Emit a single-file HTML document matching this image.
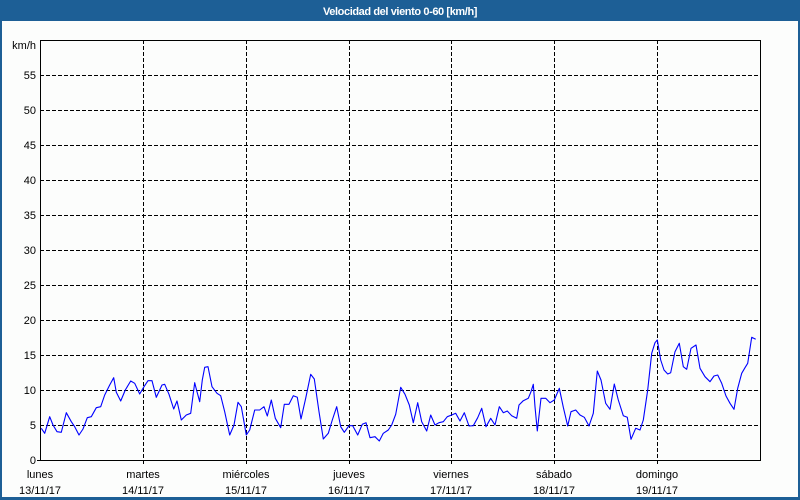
<!DOCTYPE html>
<html><head><meta charset="utf-8">
<style>
html,body{margin:0;padding:0;background:#fcfdfc;}
body{width:800px;height:500px;overflow:hidden;position:relative;}
svg{position:absolute;left:0;top:0;}
text{font-family:"Liberation Sans",Arial,sans-serif;font-size:11px;fill:#000;}
</style></head><body>
<svg width="800" height="500" viewBox="0 0 800 500" xmlns="http://www.w3.org/2000/svg">
<rect x="0" y="0" width="800" height="500" fill="#fcfdfc"/>
<!-- frame border -->
<rect x="0" y="0" width="2" height="500" fill="#1d5f96"/>
<rect x="798" y="0" width="2" height="500" fill="#1d5f96"/>
<rect x="0" y="497" width="800" height="3" fill="#1d5f96"/>
<rect x="0" y="0" width="800" height="21" fill="#1d5f96"/>
<text x="400" y="15" text-anchor="middle" style="font-weight:bold;fill:#fff;letter-spacing:-0.4px">Velocidad del viento 0-60 [km/h]</text>

<g shape-rendering="crispEdges" stroke="#000" stroke-width="1" stroke-dasharray="4,2" fill="none">
<line x1="40" y1="75.5" x2="760" y2="75.5"/>
<line x1="40" y1="110.5" x2="760" y2="110.5"/>
<line x1="40" y1="145.5" x2="760" y2="145.5"/>
<line x1="40" y1="180.5" x2="760" y2="180.5"/>
<line x1="40" y1="215.5" x2="760" y2="215.5"/>
<line x1="40" y1="250.5" x2="760" y2="250.5"/>
<line x1="40" y1="285.5" x2="760" y2="285.5"/>
<line x1="40" y1="320.5" x2="760" y2="320.5"/>
<line x1="40" y1="355.5" x2="760" y2="355.5"/>
<line x1="40" y1="390.5" x2="760" y2="390.5"/>
<line x1="40" y1="425.5" x2="760" y2="425.5"/>
<line x1="143.5" y1="40" x2="143.5" y2="464"/>
<line x1="246.5" y1="40" x2="246.5" y2="464"/>
<line x1="349.5" y1="40" x2="349.5" y2="464"/>
<line x1="451.5" y1="40" x2="451.5" y2="464"/>
<line x1="554.5" y1="40" x2="554.5" y2="464"/>
<line x1="657.5" y1="40" x2="657.5" y2="464"/>
</g>
<rect x="40.5" y="40.5" width="720" height="420" fill="none" stroke="#000" stroke-width="1" shape-rendering="crispEdges"/>
<line x1="37" y1="460.5" x2="40" y2="460.5" stroke="#000" shape-rendering="crispEdges"/>

<polyline fill="none" stroke="#0000ff" stroke-width="1.1" stroke-linejoin="round" points="
41.3,428.3 44.7,433.3 49.7,416.7 53,425 57,431.7 61.3,432.3 66.3,412.7 71.3,421.7 74.7,426.7 79,435 83,429 87.3,417.7 91.3,416.7 96.3,407.7 100.7,406.7 104.7,395 109.7,385 113.7,377.7 116.3,392.3 120.7,401 125.3,390 130.7,381 134.7,383.3 139.7,394 144,386.7 148,380.7 152,380.7 156.3,397.3 162,385 164.7,384.3 169,394.3 173.7,409 177,401 181.3,420 186.3,415 190.7,413.3 194.7,382.7 197,391.7 199.7,401.7 202.3,380 204.7,367.3 208,366.7 212,386.7 217,393.3 220.7,395.7 224.7,411.7 229.7,435 234,425 238,402.3 241.3,406.7 246.3,435 249.7,430 254.7,410 259.7,410 264,406.7 267.3,416 271.3,400 275.3,418.3 280.7,427.7 284.3,404.3 289,404.3 293.3,395.7 297.3,397.3 301,419 305.7,398.3 310.7,374.3 314.3,379 319,411.7 323.3,439 328.3,433.3 332.3,420 336.7,406.7 340.7,426.7 344.3,432.3 349,425.7 352.7,425.7 357.7,435 362.3,424.3 366,422.7 370,437.7 375,436.7 379.3,441 383.3,433.3 388.3,430 391.7,425 395.7,414.3 400.7,387.3 405,394.3 409.3,405 413.3,422.7 417.7,402.7 421.7,421.7 426.7,431 430.7,415 435,425 439,422.7 443.3,421.7 447.3,416.7 451.7,415 455.7,413.3 460,421 464.3,412.7 469,426 473.3,425.7 477.7,417.7 481.7,408.3 486,426.7 490.7,418.3 495,425 499.3,406.7 503.3,412.7 507.3,411 511.7,415.7 516.7,418.3 519,405 523.3,400.7 528.3,398.3 531,391.7 533.3,384.3 535,406.7 537.3,431 541,398.3 545.7,398.3 550,402.7 554.3,400 559.3,388.3 563.3,407.3 567.7,426 571,411.7 575.7,410 580,415 584.3,417.3 589,426 593.3,413.3 597.3,371 601,380 605.7,403.3 610,409.3 614.3,384 618.3,400 623.3,415.7 627.3,417.3 631,439.3 635.7,428.3 640,430 643.3,420 647.7,390 651.7,353.3 655,342.7 657.3,340 660.7,360 664,370 667.7,374 670.7,372.7 675,351.7 679.3,343.3 683.3,366.7 686.7,369.3 691,348.3 696,345 700,368.3 705,376.7 710,381.7 714,376 717.7,375 721.7,383.3 726,396 730,403.3 734,409.3 737.7,388.3 741.7,373.3 745,367.7 747.7,363.3 751.7,337.3 755.7,339.3"/>

<g text-anchor="end">
<text x="36" y="49">km/h</text>
<text x="36" y="79">55</text>
<text x="36" y="114">50</text>
<text x="36" y="149">45</text>
<text x="36" y="184">40</text>
<text x="36" y="219">35</text>
<text x="36" y="254">30</text>
<text x="36" y="289">25</text>
<text x="36" y="324">20</text>
<text x="36" y="359">15</text>
<text x="36" y="394">10</text>
<text x="36" y="429">5</text>
<text x="36" y="464">0</text>
</g>
<g text-anchor="middle">
<text x="40" y="478">lunes</text>
<text x="40" y="494">13/11/17</text>
<text x="143" y="478">martes</text>
<text x="143" y="494">14/11/17</text>
<text x="246" y="478">miércoles</text>
<text x="246" y="494">15/11/17</text>
<text x="349" y="478">jueves</text>
<text x="349" y="494">16/11/17</text>
<text x="451" y="478">viernes</text>
<text x="451" y="494">17/11/17</text>
<text x="554" y="478">sábado</text>
<text x="554" y="494">18/11/17</text>
<text x="657" y="478">domingo</text>
<text x="657" y="494">19/11/17</text>
</g>
</svg>
</body></html>
